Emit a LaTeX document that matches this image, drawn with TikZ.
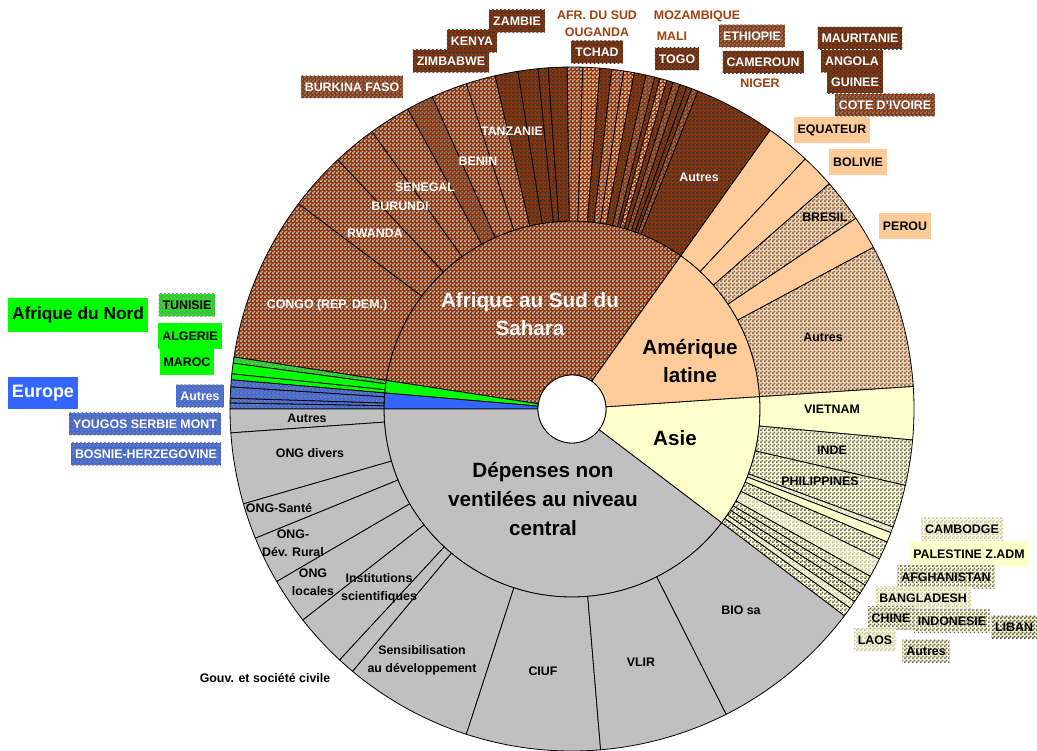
\documentclass[tikz,border=0pt]{standalone}
\usepackage{fontspec}
\setmainfont{Liberation Sans}
\usetikzlibrary{patterns}
\pgfdeclarepatternformonly{chkb}{\pgfpointorigin}{\pgfqpoint{3pt}{3pt}}{\pgfqpoint{3pt}{3pt}}{%
 \pgfpathrectangle{\pgfpointorigin}{\pgfqpoint{1.5pt}{1.5pt}}%
 \pgfpathrectangle{\pgfqpoint{1.5pt}{1.5pt}}{\pgfqpoint{1.5pt}{1.5pt}}%
 \pgfusepath{fill}}
\definecolor{brn}{HTML}{993300}
\definecolor{brtxt}{HTML}{A0400F}
\definecolor{c33}{HTML}{333333}
\definecolor{c55}{HTML}{4A4A4A}
\definecolor{c80}{HTML}{808080}
\definecolor{c66}{HTML}{6A6A6A}
\definecolor{cC0}{HTML}{C0C0C0}
\definecolor{pinkish}{HTML}{F2D6C8}
\definecolor{peach}{HTML}{FFCC99}
\definecolor{cream}{HTML}{FFFFCC}
\definecolor{grn}{HTML}{00FF00}
\definecolor{blu}{HTML}{3366FF}
\def\rh{25.5pt}
\def\ra{141pt}
\def\rb{256.5pt}
\newcommand\annsec[5]{\path[#5] (#1:#3) arc[start angle=#1,end angle=#2,radius=#3] -- (#2:#4) arc[start angle=#2,end angle=#1,radius=#4] -- cycle;}
\tikzset{
 seg/.style={draw=black, line width=0.6pt, line join=round},
 ck/.style 2 args={preaction={fill=#1}, pattern=chkb, pattern color=#2},
 dk/.style={ck={brn}{c33}},
 lt/.style={ck={brn}{cC0}},
 gy/.style={ck={brn}{c80}},
 pk/.style={ck={brn}{pinkish}},
 tan/.style={ck={peach}{c66}},
 ach/.style={ck={cream}{c66}},
 alt/.style={ck={cream}{cC0}},
 adk/.style={ck={cream}{c55}},
 gck/.style={ck={grn}{c80}},
 bck/.style={ck={blu}{c80}},
 lab/.style={font=\fontsize{9.3}{13.5}\selectfont\bfseries, inner sep=0pt, align=center},
 box/.style={lab, inner xsep=3pt, minimum height=17pt},
 big/.style={font=\fontsize{15.5}{21.5}\selectfont\bfseries, align=center, inner sep=0pt},
}
\begin{document}
\begin{tikzpicture}[x=0.75pt,y=-0.75pt]
\useasboundingbox (0,0) rectangle (1037,750);
\begin{scope}[shift={(572,409)}]
% inner ring
\annsec{54.6}{171.25}{\rh}{\ra}{seg,lt}
\annsec{171.25}{175.1}{\rh}{\ra}{seg,fill=grn}
\annsec{175.1}{180}{\rh}{\ra}{seg,fill=blu}
\annsec{180}{322.8}{\rh}{\ra}{seg,fill=cC0}
\annsec{-37.2}{3.8}{\rh}{\ra}{seg,fill=cream}
\annsec{3.8}{54.6}{\rh}{\ra}{seg,fill=peach}
% Afrique outer
\annsec{143.1}{171.25}{\ra}{\rb}{seg,lt}
\annsec{133.2}{143.1}{\ra}{\rb}{seg,lt}
\annsec{125.8}{133.2}{\ra}{\rb}{seg,lt}
\annsec{118.7}{125.8}{\ra}{\rb}{seg,lt}
\annsec{114.1}{118.7}{\ra}{\rb}{seg,gy}
\annsec{108.0}{114.1}{\ra}{\rb}{seg,lt}
\annsec{103.0}{108.0}{\ra}{\rb}{seg,lt}
\annsec{99.1}{103.0}{\ra}{\rb}{seg,dk}
\annsec{95.7}{99.1}{\ra}{\rb}{seg,dk}
\annsec{94.0}{95.7}{\ra}{\rb}{seg,dk}
\annsec{90.8}{94.0}{\ra}{\rb}{seg,dk}
\annsec{88.2}{90.8}{\ra}{\rb}{seg,lt}
\annsec{85.3}{88.2}{\ra}{\rb}{seg,pk}
\annsec{83.3}{85.3}{\ra}{\rb}{seg,dk}
\annsec{81.3}{83.3}{\ra}{\rb}{seg,lt}
\annsec{79.5}{81.3}{\ra}{\rb}{seg,pk}
\annsec{77.5}{79.5}{\ra}{\rb}{seg,dk}
\annsec{76.0}{77.5}{\ra}{\rb}{seg,gy}
\annsec{75.1}{76.0}{\ra}{\rb}{seg,dk}
\annsec{73.9}{75.1}{\ra}{\rb}{seg,pk}
\annsec{72.8}{73.9}{\ra}{\rb}{seg,dk}
\annsec{71.6}{72.8}{\ra}{\rb}{seg,gy}
\annsec{70.4}{71.6}{\ra}{\rb}{seg,dk}
\annsec{69.5}{70.4}{\ra}{\rb}{seg,dk}
\annsec{68.4}{69.5}{\ra}{\rb}{seg,gy}
\annsec{54.6}{68.4}{\ra}{\rb}{seg,dk}
% Afrique du Nord / Europe outer
\annsec{171.25}{172.3}{\ra}{\rb}{seg,gck}
\annsec{172.3}{174.1}{\ra}{\rb}{seg,fill=grn}
\annsec{174.1}{175.1}{\ra}{\rb}{seg,fill=grn}
\annsec{175.1}{176.3}{\ra}{\rb}{seg,bck}
\annsec{176.3}{178.2}{\ra}{\rb}{seg,bck}
\annsec{178.2}{179.0}{\ra}{\rb}{seg,bck}
\annsec{179.0}{180.0}{\ra}{\rb}{seg,bck}
% Depenses outer
\annsec{180}{184}{\ra}{\rb}{seg,fill=cC0}
\annsec{184}{196.1}{\ra}{\rb}{seg,fill=cC0}
\annsec{196.1}{202.2}{\ra}{\rb}{seg,fill=cC0}
\annsec{202.2}{210.3}{\ra}{\rb}{seg,fill=cC0}
\annsec{210.3}{218.1}{\ra}{\rb}{seg,fill=cC0}
\annsec{218.1}{227.2}{\ra}{\rb}{seg,fill=cC0}
\annsec{227.2}{230.1}{\ra}{\rb}{seg,fill=cC0}
\annsec{230.1}{252.0}{\ra}{\rb}{seg,fill=cC0}
\annsec{252.0}{274.8}{\ra}{\rb}{seg,fill=cC0}
\annsec{274.8}{296.8}{\ra}{\rb}{seg,fill=cC0}
\annsec{296.8}{322.8}{\ra}{\rb}{seg,fill=cC0}
% Asie outer
\annsec{-5.2}{3.8}{\ra}{\rb}{seg,fill=cream}
\annsec{-12.9}{-5.2}{\ra}{\rb}{seg,ach}
\annsec{-20.2}{-12.9}{\ra}{\rb}{seg,ach}
\annsec{-21.2}{-20.2}{\ra}{\rb}{seg,alt}
\annsec{-22.9}{-21.2}{\ra}{\rb}{seg,fill=cream}
\annsec{-26.0}{-22.9}{\ra}{\rb}{seg,ach}
\annsec{-29.3}{-26.0}{\ra}{\rb}{seg,alt}
\annsec{-31.0}{-29.3}{\ra}{\rb}{seg,ach}
\annsec{-32.6}{-31.0}{\ra}{\rb}{seg,ach}
\annsec{-34.3}{-32.6}{\ra}{\rb}{seg,adk}
\annsec{-35.6}{-34.3}{\ra}{\rb}{seg,alt}
\annsec{-37.2}{-35.6}{\ra}{\rb}{seg,ach}
% Amerique outer
\annsec{47.0}{54.6}{\ra}{\rb}{seg,fill=peach}
\annsec{41.2}{47.0}{\ra}{\rb}{seg,fill=peach}
\annsec{33.9}{41.2}{\ra}{\rb}{seg,tan}
\annsec{28.2}{33.9}{\ra}{\rb}{seg,fill=peach}
\annsec{3.8}{28.2}{\ra}{\rb}{seg,tan}
% hole
\path[seg, fill=white] (0,0) circle[radius=\rh];
\end{scope}
% big labels
\node[big, text=white] (afs) at (530,314) {Afrique au Sud du\\Sahara};
\node[big] (aml) at (690,361) {Amérique\\latine};
\node[big] (asi) at (675,438) {Asie};
\node[big] (dep) at (543,499) {Dépenses non\\ventilées au niveau\\central};
\node[font=\fontsize{13}{15}\selectfont\bfseries, fill=grn, inner xsep=3pt, minimum height=25pt] (afn) at (78,315) {Afrique du Nord};
\node[font=\fontsize{13.5}{15}\selectfont\bfseries, fill=blu, text=white, inner xsep=3pt, minimum height=24pt] (eur) at (43,393) {Europe};
% Afrique labels
\node[box, gy, text=white] (l1) at (352,87) {BURKINA FASO};
\node[box, dk, text=white] (l2) at (451,61) {ZIMBABWE};
\node[box, dk, text=white] (l3) at (472,41) {KENYA};
\node[box, dk, text=white] (l4) at (517,21) {ZAMBIE};
\node[lab, text=brtxt] (l5) at (597,15) {AFR. DU SUD};
\node[lab, text=brtxt] (l6) at (597,32) {OUGANDA};
\node[box, dk, text=white] (l7) at (597,52) {TCHAD};
\node[lab, text=brtxt] (l8) at (697,16) {MOZAMBIQUE};
\node[lab, text=brtxt] (l9) at (672,36) {MALI};
\node[box, dk, text=white] (l10) at (677,59) {TOGO};
\node[box, gy, text=white] (l11) at (752,36) {ETHIOPIE};
\node[box, dk, text=white] (l12) at (763,62) {CAMEROUN};
\node[lab, text=brtxt] (l13) at (760,83) {NIGER};
\node[box, dk, text=white] (l14) at (860,38) {MAURITANIE};
\node[box, dk, text=white] (l15) at (852,61) {ANGOLA};
\node[box, dk, text=white] (l16) at (855,82) {GUINEE};
\node[box, gy, text=white] (l17) at (885,105) {COTE D'IVOIRE};
\node[lab, text=white] (i1) at (512,131) {TANZANIE};
\node[lab, text=white] (i2) at (478,161) {BENIN};
\node[lab, text=white] (i3) at (425,187) {SENEGAL};
\node[lab, text=white] (i4) at (400,206) {BURUNDI};
\node[lab, text=white] (i5) at (375,233) {RWANDA};
\node[lab, text=white] (i6) at (327,305) {CONGO (REP. DEM.)};
\node[lab, text=white] (i7) at (699,177) {Autres};
% Amerique labels
\node[box, fill=peach, minimum height=19pt] (m1) at (832,130) {EQUATEUR};
\node[box, fill=peach, minimum height=19pt] (m2) at (858,162) {BOLIVIE};
\node[box, fill=peach, minimum height=20pt] (m3) at (905,226) {PEROU};
\node[lab] (m4) at (825,217) {BRESIL};
\node[lab] (m5) at (823,337) {Autres};
% Nord / Europe labels
\node[box, gck] (n1) at (187,305) {TUNISIE};
\node[box, fill=grn, minimum height=20pt] (n2) at (190,336) {ALGERIE};
\node[box, fill=grn, minimum height=20pt] (n3) at (187,362) {MAROC};
\node[box, bck, text=white] (e1) at (200,396) {Autres};
\node[box, bck, text=white] (e2) at (145,424) {YOUGOS SERBIE MONT};
\node[box, bck, text=white] (e3) at (146,454) {BOSNIE-HERZEGOVINE};
% Depenses labels
\node[lab] (d1) at (307,418) {Autres};
\node[lab] (d2) at (310,453) {ONG divers};
\node[lab] (d3) at (279,508) {ONG-Santé};
\node[lab] (d4) at (293,543) {ONG-\\Dév. Rural};
\node[lab] (d5) at (313,582) {ONG\\locales};
\node[lab] (d6) at (379,588) {Institutions\\scientifiques};
\node[lab] (d7) at (422,660) {Sensibilisation\\au développement};
\node[lab] (d8) at (543,671) {CIUF};
\node[lab] (d9) at (641,662) {VLIR};
\node[lab] (d10) at (741,610) {BIO sa};
\node[lab] (d11) at (265,678) {Gouv. et société civile};
% Asie labels
\node[lab] (a1) at (832,409) {VIETNAM};
\node[lab] (a2) at (832,450) {INDE};
\node[lab] (a3) at (820,481) {PHILIPPINES};
\node[box, alt] (a4) at (962,529) {CAMBODGE};
\node[box, fill=cream, minimum height=19pt] (a5) at (969,554) {PALESTINE Z.ADM};
\node[box, ach] (a6) at (946,577) {AFGHANISTAN};
\node[box, alt] (a7) at (923,598) {BANGLADESH};
\node[box, ach] (a8) at (891,618) {CHINE};
\node[box, ach] (a9) at (952,621) {INDONESIE};
\node[box, adk] (a10) at (1014,627) {LIBAN};
\node[box, alt] (a11) at (875,640) {LAOS};
\node[box, ach] (a12) at (926,651) {Autres};
\end{tikzpicture}
\end{document}
